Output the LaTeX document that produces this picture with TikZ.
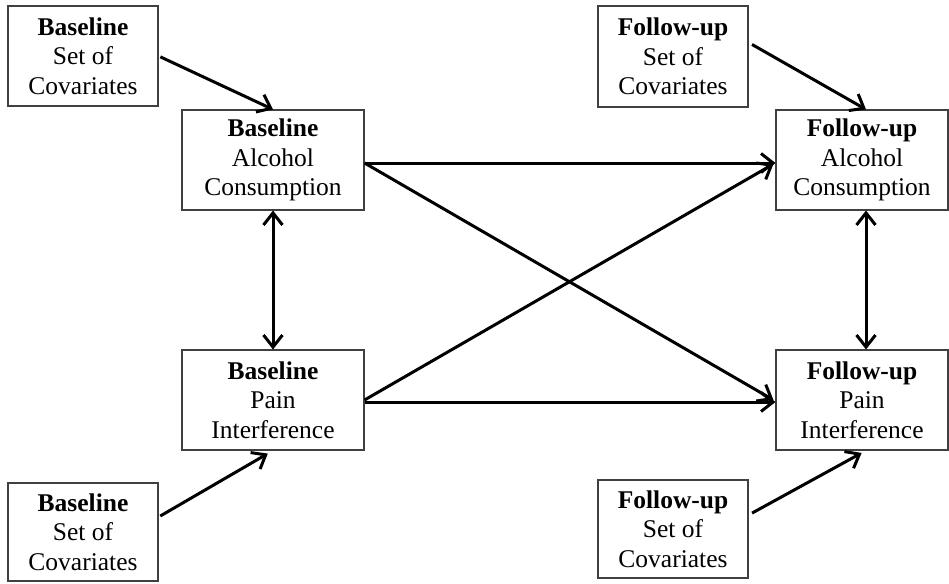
\documentclass[tikz,border=0pt]{standalone}
\usepackage{fontspec}
\setmainfont{Liberation Serif}
\usetikzlibrary{arrows.meta}

\tikzset{
  varbox/.style={draw=black!75, line width=1.1pt, inner sep=0pt, align=center,
    font=\fontsize{25.5}{29.5}\selectfont},
  covbox/.style={varbox, minimum width=150, minimum height=100},
  mainbox/.style={varbox, minimum width=182, minimum height=100},
  fubox/.style={varbox, minimum width=172, minimum height=100},
  barb/.tip={Straight Barb[length=12pt,width=19pt,line width=3pt]},
  path/.style={line width=3pt, -barb},
  twoway/.style={line width=3pt, barb-barb}
}

\begin{document}
\begin{tikzpicture}[x=1pt, y=-1pt]
  \useasboundingbox (0,0) rectangle (949,583);

  % covariate sets
  \node[covbox] (bcA) at (83,56)    {\textbf{Baseline}\\Set of\\Covariates};
  \node[covbox, minimum height=98] (bcP) at (83,532) {\textbf{Baseline}\\Set of\\Covariates};
  \node[covbox, minimum height=101] (fcA) at (673,56.5) {\textbf{Follow-up}\\Set of\\Covariates};
  \node[covbox, minimum height=98] (fcP) at (673,529) {\textbf{Follow-up}\\Set of\\Covariates};

  % baseline measures
  \node[mainbox] (baA) at (273,160) {\textbf{Baseline}\\Alcohol\\Consumption};
  \node[mainbox] (baP) at (273,400) {\textbf{Baseline}\\Pain\\Interference};

  % follow-up measures
  \node[fubox] (fuA) at (862,160) {\textbf{Follow-up}\\Alcohol\\Consumption};
  \node[fubox] (fuP) at (862,400) {\textbf{Follow-up}\\Pain\\Interference};

  % covariate effects
  \draw[path, shorten <=2pt] (bcA.east) -- (baA.north);
  \draw[path, shorten <=2pt, shorten >=6pt] ([yshift=15pt]bcP.east) -- (baP.south);
  \draw[path, shorten <=4pt] ([yshift=14pt]fcA.east) -- ([xshift=4pt]fuA.north);
  \draw[path, shorten <=4pt, shorten >=5pt] ([yshift=14pt]fcP.east) -- ([xshift=4pt]fuP.south);

  % within-wave correlations
  \draw[twoway] (baA.south) -- (baP.north);
  \draw[twoway] ([xshift=4pt]fuA.south) -- ([xshift=4pt]fuP.north);

  % autoregressive and cross-lagged paths
  \draw[path] ([yshift=-3pt]baA.east) -- ([yshift=-3pt]fuA.west);
  \draw[path] ([yshift=-2pt]baP.east) -- ([yshift=-2pt]fuP.west);
  \draw[path] ([yshift=-3pt]baA.east) -- ([xshift=-2pt]fuP.west);
  \draw[path] (baP.east) -- ([xshift=-2pt,yshift=-4pt]fuA.west);
\end{tikzpicture}
\end{document}
